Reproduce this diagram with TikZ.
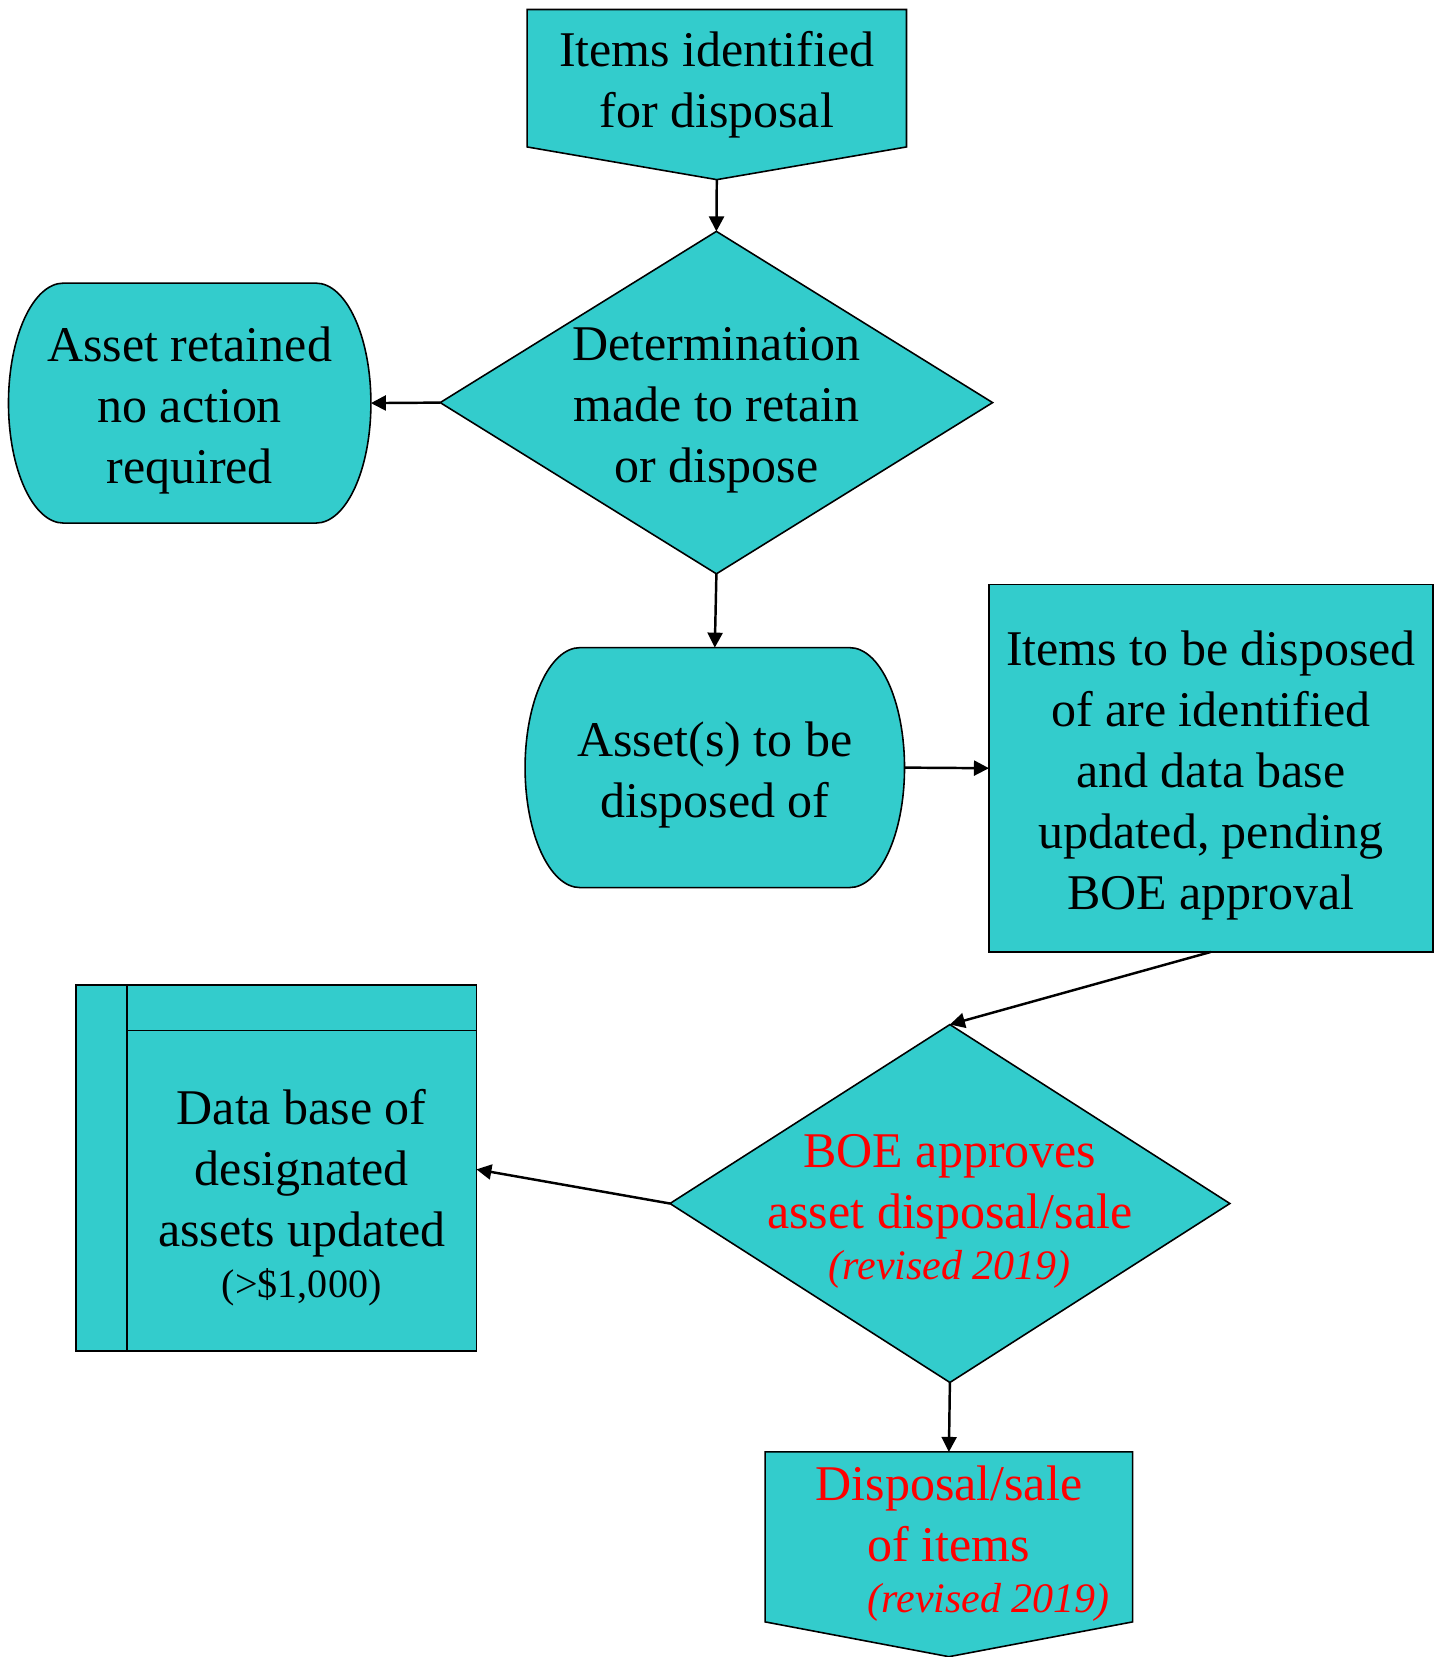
\documentclass[tikz,border=0pt]{standalone}
\usepackage{fontspec}
\setmainfont{Liberation Serif}
\usetikzlibrary{shapes.geometric, arrows.meta, backgrounds}
\definecolor{boxfill}{HTML}{33CCCC}
\newcommand{\topgap}{\rule{0pt}{0.98cm}}
\tikzstyle{outline} = [draw, fill=boxfill, line width=0.9pt]
\tikzstyle{base} = [inner sep=-0.2cm, outer sep=0pt, align=center, font=\fontsize{28.45}{34.7}\selectfont]
\tikzstyle{terminal} = [base, minimum height=4.8cm]
\tikzstyle{offpage} = [base]
\tikzstyle{process} = [base, rectangle, outline]
\tikzstyle{decision} = [base, diamond, aspect=1.6, inner sep=-0.5cm, outline]
\tikzstyle{arrow} = [line width=1.4pt, -{Triangle[length=0.3cm, width=0.3cm]}]
\newcommand{\terminalshape}[1]{\draw[outline] ([xshift=1.1cm]#1.north west) -- ([xshift=-1.1cm]#1.north east) arc[start angle=90, end angle=-90, x radius=1.1cm, y radius=2.4cm] -- ([xshift=1.1cm]#1.south west) arc[start angle=270, end angle=90, x radius=1.1cm, y radius=2.4cm] -- cycle;}
\newcommand{\offpageshape}[2]{\draw[outline] (#1.north west) -- (#1.north east) -- (#1.south east) -- ([yshift=-#2]#1.south) coordinate (#1-tip) -- (#1.south west) -- cycle;}
\newcommand{\storageshape}[1]{\draw[outline] ([xshift=-1.02cm]#1.south west) rectangle ([yshift=0.91cm]#1.north east); \draw[outline] (#1.north west) -- ++(0,0.91cm);}

\begin{document}
\begin{tikzpicture}[x=0.02cm, y=-0.02cm]
                 \useasboundingbox (0,0) rectangle (1439,1657);
                 \node [offpage, minimum width=7.59cm, minimum height=2.75cm] at (716.8,78.2) (ident) {\topgap Items identified\\for disposal};
                 \node [decision, minimum width=11.05cm, minimum height=6.85cm] at (716.4,402.6) (decide) {\topgap Determination\\made to retain\\or dispose};
                 \node [terminal, minimum width=7.25cm] at (189.7,403.1) (retain) {\topgap Asset retained\\no action\\required};
                 \node [terminal, minimum width=7.59cm] at (714.8,767.6) (dispose) {\topgap Asset(s) to be\\disposed of};
                 \node [process, minimum width=8.88cm, minimum height=7.35cm] at (1210.9,768.2) (update) {\topgap Items to be disposed\\of are identified\\and data base\\updated, pending\\BOE approval};
                 \node [decision, text=red, minimum width=11.2cm, minimum height=7.16cm] at (949.9,1203.5) (approve) {\topgap BOE approves\\asset disposal/sale\\[-0.2cm]{\fontsize{23.9}{29}\selectfont\itshape (revised 2019)}};
                 \node [process, minimum width=6.99cm, minimum height=6.42cm] at (301.7,1190.8) (database) {\topgap Data base of\\designated\\assets updated\\[-0.2cm]{\fontsize{22.8}{27}\selectfont (>\$1,000)}};
                 \node [offpage, text=red, minimum width=7.35cm, minimum height=3.4cm] at (948.9,1536.9) (sale) {\topgap Disposal/sale\\of items\\[-0.2cm]\hspace*{1.6cm}{\fontsize{23.9}{29}\selectfont\itshape (revised 2019)}};
                 \begin{pgfonlayer}{background}
                 \offpageshape{ident}{0.654cm}
                 \offpageshape{sale}{0.696cm}
                 \terminalshape{retain}
                 \terminalshape{dispose}
                 \storageshape{database}
                 \end{pgfonlayer}
                 \draw [arrow] (ident-tip) -- (decide.north);
                 \draw [arrow] (decide.west) -- (retain.east);
                 \draw [arrow] (decide.south) -- (dispose.north);
                 \draw [arrow] (dispose.east) -- (update.west);
                 \draw [arrow] (update.south) -- (approve.north);
                 \draw [arrow] (approve.west) -- (database.7);
                 \draw [arrow] (approve.south) -- (sale.north);
                 \end{tikzpicture}
\end{document}
